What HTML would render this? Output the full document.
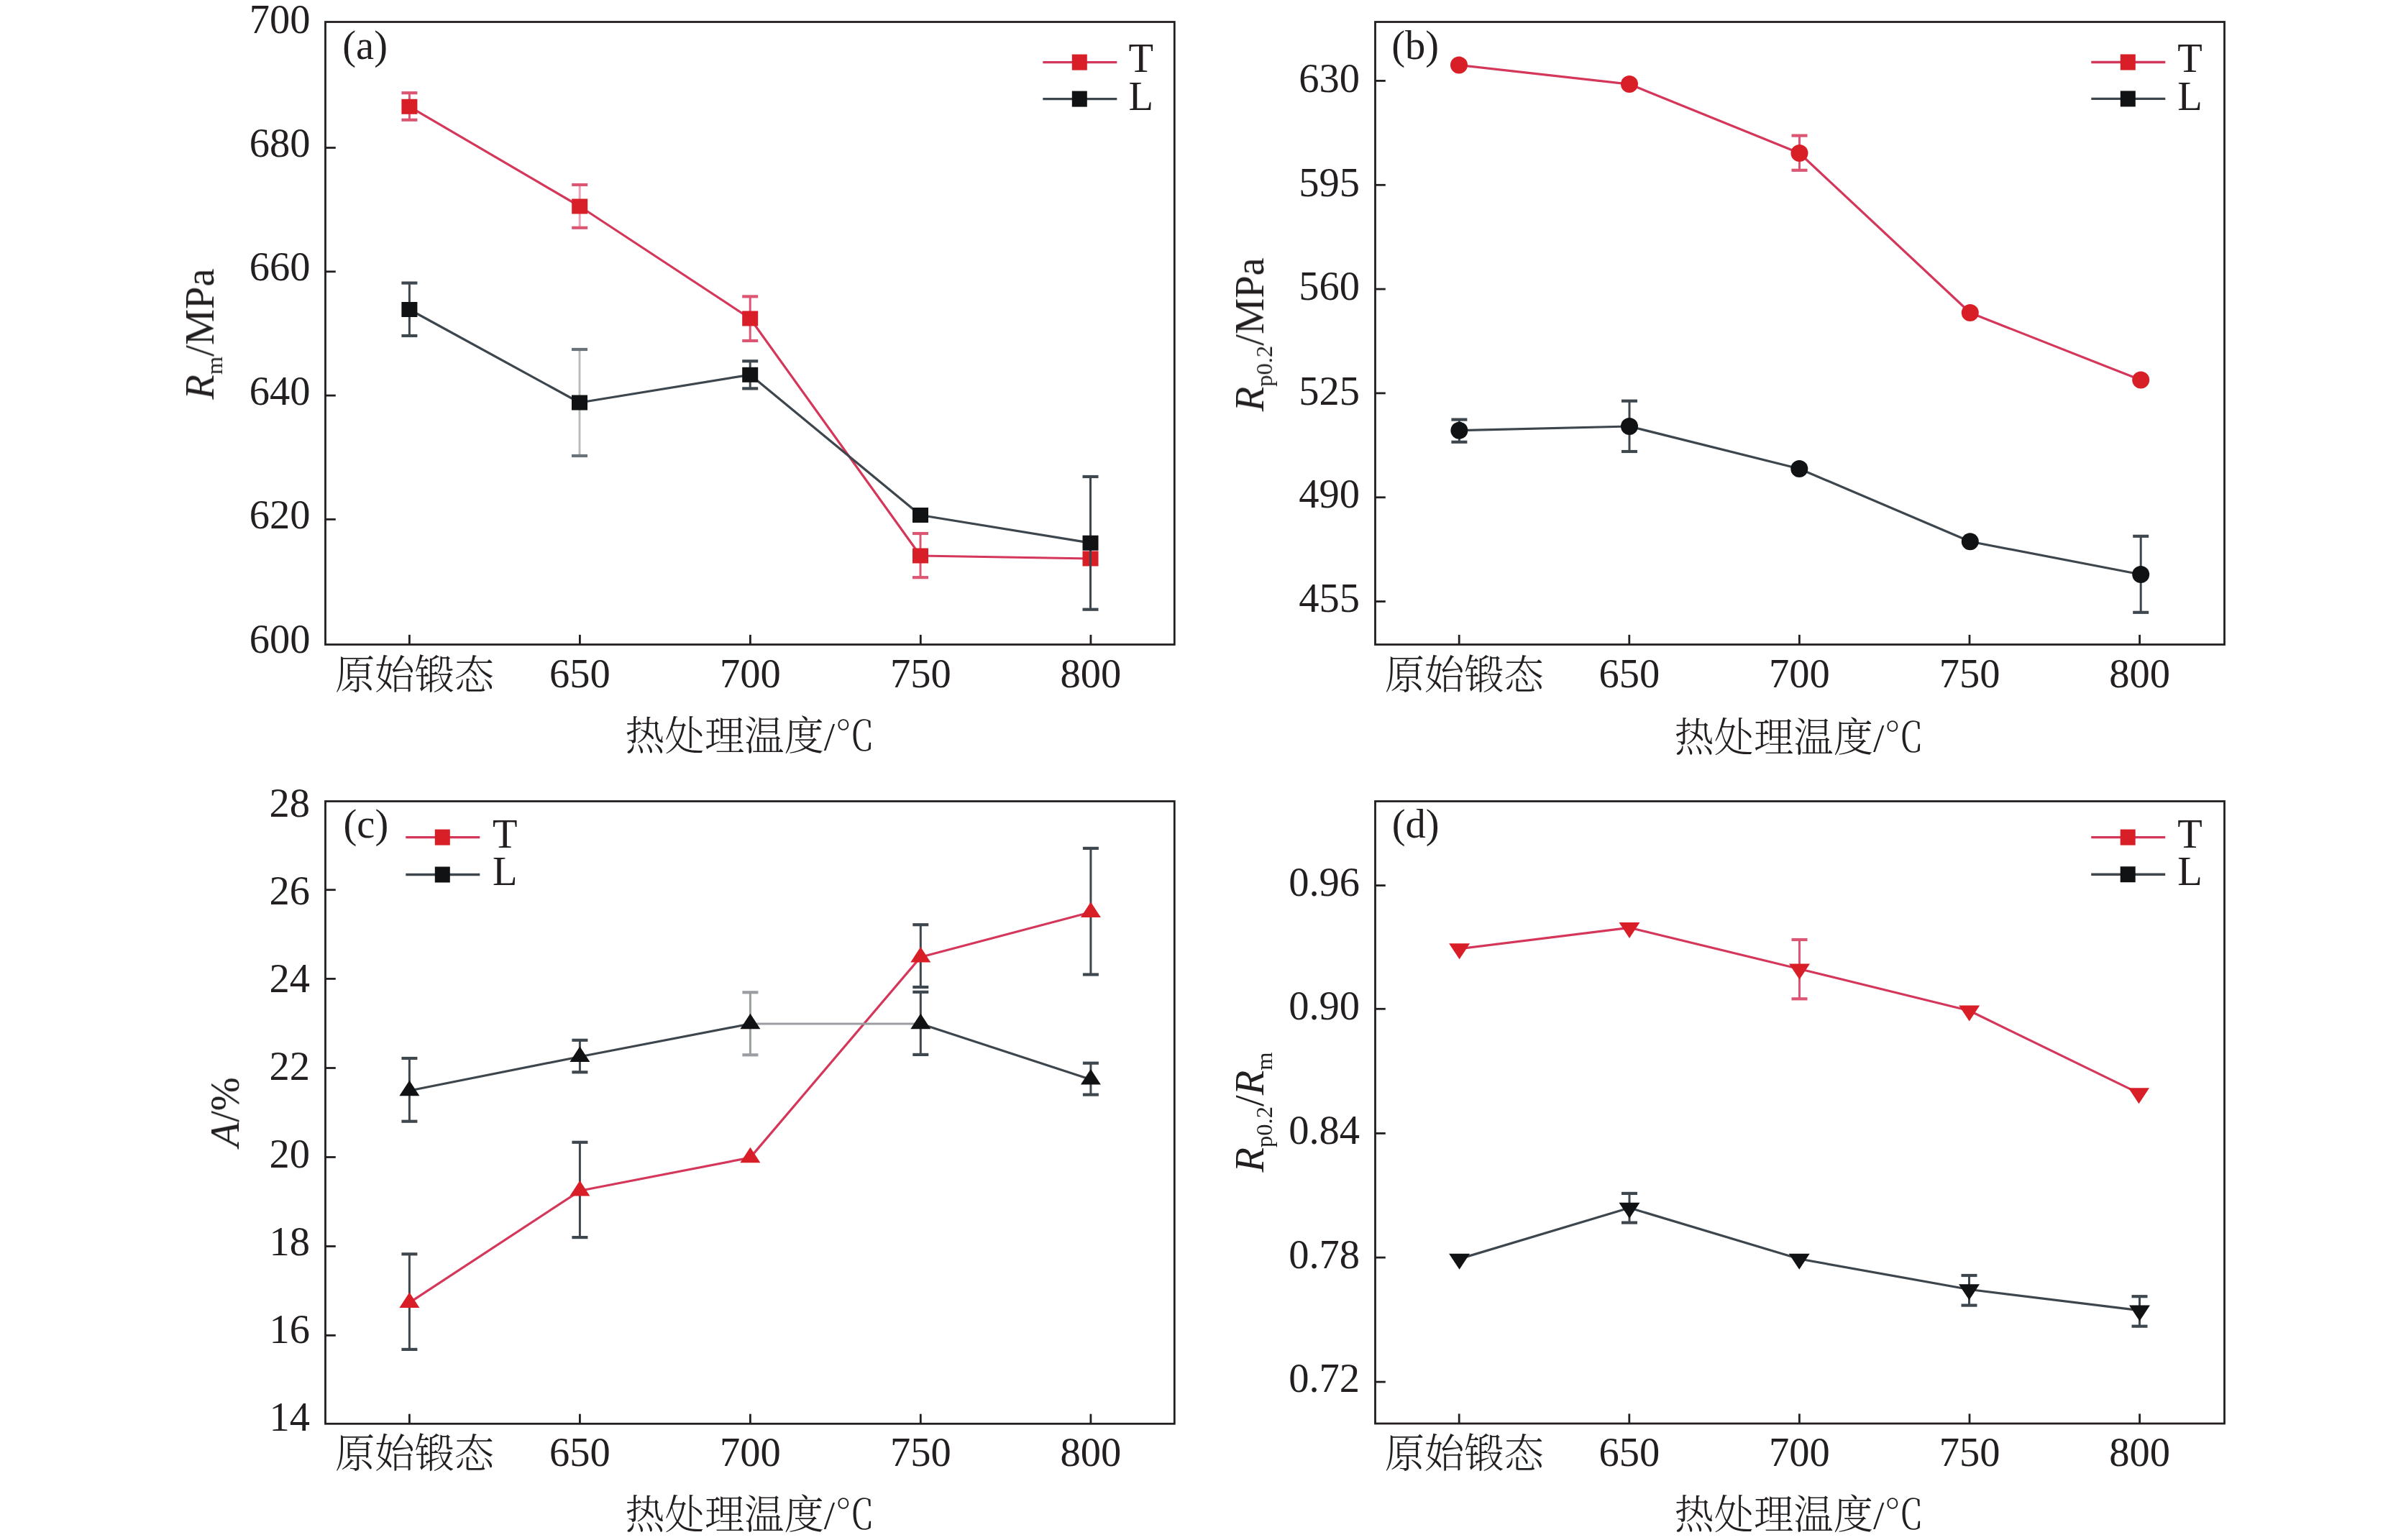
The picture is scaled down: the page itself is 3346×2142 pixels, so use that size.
<!DOCTYPE html><html><head><meta charset="utf-8"><style>
html,body{margin:0;padding:0;background:#fff;overflow:hidden}
svg{display:block} .t{font-family:'Liberation Serif', 'Noto Serif CJK SC', serif;font-size:56.5px;fill:#231f20} .c{font-family:'Liberation Serif', 'Noto Serif CJK SC', serif;font-size:55.3px;font-weight:300;fill:#231f20} .i{font-style:italic}
</style></head><body>
<svg width="3346" height="2142" viewBox="0 0 3346 2142">
<defs><filter id="gs" x="-10%" y="-10%" width="120%" height="120%"><feColorMatrix type="identity"/></filter></defs>
<rect width="3346" height="2142" fill="#fff"/>
<rect x="452.5" y="30.5" width="1180.80" height="866.00" fill="none" stroke="#231f20" stroke-width="2.8"/>
<line x1="452.5" y1="205.5" x2="466.8" y2="205.5" stroke="#231f20" stroke-width="2.8"/>
<line x1="452.5" y1="377.8" x2="466.8" y2="377.8" stroke="#231f20" stroke-width="2.8"/>
<line x1="452.5" y1="550.1" x2="466.8" y2="550.1" stroke="#231f20" stroke-width="2.8"/>
<line x1="452.5" y1="722.4" x2="466.8" y2="722.4" stroke="#231f20" stroke-width="2.8"/>
<line x1="569.4" y1="896.5" x2="569.4" y2="882.9" stroke="#231f20" stroke-width="2.8"/>
<line x1="806.4" y1="896.5" x2="806.4" y2="882.9" stroke="#231f20" stroke-width="2.8"/>
<line x1="1043.4" y1="896.5" x2="1043.4" y2="882.9" stroke="#231f20" stroke-width="2.8"/>
<line x1="1280.3" y1="896.5" x2="1280.3" y2="882.9" stroke="#231f20" stroke-width="2.8"/>
<line x1="1516.9" y1="896.5" x2="1516.9" y2="882.9" stroke="#231f20" stroke-width="2.8"/>
<text x="431.5" y="45.9" text-anchor="end" class="t">700</text>
<text x="431.5" y="217.9" text-anchor="end" class="t">680</text>
<text x="431.5" y="389.7" text-anchor="end" class="t">660</text>
<text x="431.5" y="562.7" text-anchor="end" class="t">640</text>
<text x="431.5" y="734.8" text-anchor="end" class="t">620</text>
<text x="431.5" y="907.8" text-anchor="end" class="t">600</text>
<text x="576.5" y="957.5" text-anchor="middle" class="c">原始锻态</text>
<text x="806.4" y="955.6" text-anchor="middle" class="t">650</text>
<text x="1043.4" y="955.6" text-anchor="middle" class="t">700</text>
<text x="1280.3" y="955.6" text-anchor="middle" class="t">750</text>
<text x="1516.9" y="955.6" text-anchor="middle" class="t">800</text>
<text x="869.3" y="1043.2" class="c">热处理温度/℃</text>
<text x="476.3" y="82" class="t">(a)</text>
<text filter="url(#gs)" transform="translate(297,464.6) rotate(-90)" text-anchor="middle" class="t"><tspan class="i">R</tspan><tspan font-size="32.5" dy="11.8">m</tspan><tspan dy="-11.8">/MPa</tspan></text>
<line x1="1450.3" y1="86.6" x2="1553.3" y2="86.6" stroke="#d4375a" stroke-width="3.4"/>
<rect x="1490.8" y="75.6" width="21" height="22" fill="#d81f27"/>
<line x1="1450.3" y1="137.6" x2="1553.3" y2="137.6" stroke="#3e464d" stroke-width="3.4"/>
<rect x="1490.8" y="126.6" width="21" height="22" fill="#111213"/>
<text x="1569.6" y="100.2" class="t">T</text>
<text x="1569.6" y="153.0" class="t">L</text>
<polyline points="569.4,148.3 806.2,287.0 1043.2,443.0 1280.0,773.0 1516.5,777.0" fill="none" stroke="#d4375a" stroke-width="3.2" stroke-linejoin="round"/>
<line x1="569.4" y1="129.2" x2="569.4" y2="166.8" stroke="#dc5572" stroke-width="3.0"/>
<line x1="558.4" y1="129.2" x2="580.4" y2="129.2" stroke="#dc5572" stroke-width="4.2"/>
<line x1="558.4" y1="166.8" x2="580.4" y2="166.8" stroke="#dc5572" stroke-width="4.2"/>
<line x1="806.2" y1="257" x2="806.2" y2="316.8" stroke="#eba0b3" stroke-width="3.0"/>
<line x1="795.2" y1="257" x2="817.2" y2="257" stroke="#dc5572" stroke-width="4.2"/>
<line x1="795.2" y1="316.8" x2="817.2" y2="316.8" stroke="#dc5572" stroke-width="4.2"/>
<line x1="1043.2" y1="412.4" x2="1043.2" y2="474" stroke="#dc5572" stroke-width="3.0"/>
<line x1="1032.2" y1="412.4" x2="1054.2" y2="412.4" stroke="#dc5572" stroke-width="4.2"/>
<line x1="1032.2" y1="474" x2="1054.2" y2="474" stroke="#dc5572" stroke-width="4.2"/>
<line x1="1280" y1="742" x2="1280" y2="803.2" stroke="#dc5572" stroke-width="3.0"/>
<line x1="1269.0" y1="742" x2="1291.0" y2="742" stroke="#dc5572" stroke-width="4.2"/>
<line x1="1269.0" y1="803.2" x2="1291.0" y2="803.2" stroke="#dc5572" stroke-width="4.2"/>
<rect x="558.4" y="137.8" width="22" height="21" fill="#d81f27"/>
<rect x="795.2" y="276.5" width="22" height="21" fill="#d81f27"/>
<rect x="1032.2" y="432.5" width="22" height="21" fill="#d81f27"/>
<rect x="1269.0" y="762.5" width="22" height="21" fill="#d81f27"/>
<rect x="1505.5" y="766.5" width="22" height="21" fill="#d81f27"/>
<polyline points="569.4,430.5 806.0,560.0 1043.2,521.3 1280.0,716.5 1516.5,755.2" fill="none" stroke="#3e464d" stroke-width="3.2" stroke-linejoin="round"/>
<line x1="569.4" y1="393.6" x2="569.4" y2="467" stroke="#3f474e" stroke-width="3.0"/>
<line x1="558.4" y1="393.6" x2="580.4" y2="393.6" stroke="#3f474e" stroke-width="4.2"/>
<line x1="558.4" y1="467" x2="580.4" y2="467" stroke="#3f474e" stroke-width="4.2"/>
<line x1="806" y1="486" x2="806" y2="634" stroke="#b9bcbf" stroke-width="3.0"/>
<line x1="795.0" y1="486" x2="817.0" y2="486" stroke="#6a7279" stroke-width="4.2"/>
<line x1="795.0" y1="634" x2="817.0" y2="634" stroke="#6a7279" stroke-width="4.2"/>
<line x1="1043.2" y1="502.3" x2="1043.2" y2="540.4" stroke="#3f474e" stroke-width="3.0"/>
<line x1="1032.2" y1="502.3" x2="1054.2" y2="502.3" stroke="#3f474e" stroke-width="4.2"/>
<line x1="1032.2" y1="540.4" x2="1054.2" y2="540.4" stroke="#3f474e" stroke-width="4.2"/>
<line x1="1516.5" y1="663" x2="1516.5" y2="847.7" stroke="#3f474e" stroke-width="3.0"/>
<line x1="1505.5" y1="663" x2="1527.5" y2="663" stroke="#3f474e" stroke-width="4.2"/>
<line x1="1505.5" y1="847.7" x2="1527.5" y2="847.7" stroke="#3f474e" stroke-width="4.2"/>
<rect x="558.4" y="420.0" width="22" height="21" fill="#111213"/>
<rect x="795.0" y="549.5" width="22" height="21" fill="#111213"/>
<rect x="1032.2" y="510.8" width="22" height="21" fill="#111213"/>
<rect x="1269.0" y="706.0" width="22" height="21" fill="#111213"/>
<rect x="1505.5" y="744.7" width="22" height="21" fill="#111213"/>
<rect x="1912.5" y="30.5" width="1181.00" height="866.00" fill="none" stroke="#231f20" stroke-width="2.8"/>
<line x1="1912.5" y1="112.4" x2="1926.8" y2="112.4" stroke="#231f20" stroke-width="2.8"/>
<line x1="1912.5" y1="257.3" x2="1926.8" y2="257.3" stroke="#231f20" stroke-width="2.8"/>
<line x1="1912.5" y1="402.1" x2="1926.8" y2="402.1" stroke="#231f20" stroke-width="2.8"/>
<line x1="1912.5" y1="546.9" x2="1926.8" y2="546.9" stroke="#231f20" stroke-width="2.8"/>
<line x1="1912.5" y1="691.8" x2="1926.8" y2="691.8" stroke="#231f20" stroke-width="2.8"/>
<line x1="1912.5" y1="836.6" x2="1926.8" y2="836.6" stroke="#231f20" stroke-width="2.8"/>
<line x1="2029.2" y1="896.5" x2="2029.2" y2="882.9" stroke="#231f20" stroke-width="2.8"/>
<line x1="2265.8" y1="896.5" x2="2265.8" y2="882.9" stroke="#231f20" stroke-width="2.8"/>
<line x1="2502.4" y1="896.5" x2="2502.4" y2="882.9" stroke="#231f20" stroke-width="2.8"/>
<line x1="2739.0" y1="896.5" x2="2739.0" y2="882.9" stroke="#231f20" stroke-width="2.8"/>
<line x1="2975.6" y1="896.5" x2="2975.6" y2="882.9" stroke="#231f20" stroke-width="2.8"/>
<text x="1891.0" y="127.8" text-anchor="end" class="t">630</text>
<text x="1891.0" y="273.1" text-anchor="end" class="t">595</text>
<text x="1891.0" y="416.8" text-anchor="end" class="t">560</text>
<text x="1891.0" y="562.6" text-anchor="end" class="t">525</text>
<text x="1891.0" y="706.0" text-anchor="end" class="t">490</text>
<text x="1891.0" y="850.5" text-anchor="end" class="t">455</text>
<text x="2036.3" y="957.8" text-anchor="middle" class="c">原始锻态</text>
<text x="2265.8" y="955.6" text-anchor="middle" class="t">650</text>
<text x="2502.4" y="955.6" text-anchor="middle" class="t">700</text>
<text x="2739.0" y="955.6" text-anchor="middle" class="t">750</text>
<text x="2975.6" y="955.6" text-anchor="middle" class="t">800</text>
<text x="2328.5" y="1044.5" class="c">热处理温度/℃</text>
<text x="1935.3" y="82.3" class="t">(b)</text>
<text filter="url(#gs)" transform="translate(1757,465.3) rotate(-90)" text-anchor="middle" class="t"><tspan class="i">R</tspan><tspan font-size="32.5" dy="11.8">p0.2</tspan><tspan dy="-11.8">/MPa</tspan></text>
<line x1="2908.3" y1="86.5" x2="3011.3" y2="86.5" stroke="#d4375a" stroke-width="3.4"/>
<rect x="2948.8" y="75.5" width="21" height="22" fill="#d81f27"/>
<line x1="2908.3" y1="137.4" x2="3011.3" y2="137.4" stroke="#3e464d" stroke-width="3.4"/>
<rect x="2948.8" y="126.4" width="21" height="22" fill="#111213"/>
<text x="3028.2" y="100.0" class="t">T</text>
<text x="3028.2" y="153.0" class="t">L</text>
<polyline points="2029.0,90.6 2266.0,117.1 2502.5,213.0 2739.8,435.0 2977.2,528.6" fill="none" stroke="#d4375a" stroke-width="3.2" stroke-linejoin="round"/>
<line x1="2502.5" y1="188.6" x2="2502.5" y2="236.8" stroke="#dc5572" stroke-width="3.0"/>
<line x1="2491.5" y1="188.6" x2="2513.5" y2="188.6" stroke="#dc5572" stroke-width="4.2"/>
<line x1="2491.5" y1="236.8" x2="2513.5" y2="236.8" stroke="#dc5572" stroke-width="4.2"/>
<circle cx="2029" cy="90.6" r="12" fill="#d81f27"/>
<circle cx="2266" cy="117.1" r="12" fill="#d81f27"/>
<circle cx="2502.5" cy="213" r="12" fill="#d81f27"/>
<circle cx="2739.8" cy="435" r="12" fill="#d81f27"/>
<circle cx="2977.2" cy="528.6" r="12" fill="#d81f27"/>
<polyline points="2029.4,598.7 2266.0,593.0 2502.3,652.0 2739.8,753.3 2977.2,799.0" fill="none" stroke="#3e464d" stroke-width="3.2" stroke-linejoin="round"/>
<line x1="2029.4" y1="583.6" x2="2029.4" y2="614.8" stroke="#3f474e" stroke-width="3.0"/>
<line x1="2018.4" y1="583.6" x2="2040.4" y2="583.6" stroke="#3f474e" stroke-width="4.2"/>
<line x1="2018.4" y1="614.8" x2="2040.4" y2="614.8" stroke="#3f474e" stroke-width="4.2"/>
<line x1="2266" y1="557.7" x2="2266" y2="628" stroke="#3f474e" stroke-width="3.0"/>
<line x1="2255.0" y1="557.7" x2="2277.0" y2="557.7" stroke="#3f474e" stroke-width="4.2"/>
<line x1="2255.0" y1="628" x2="2277.0" y2="628" stroke="#3f474e" stroke-width="4.2"/>
<line x1="2977.2" y1="745.8" x2="2977.2" y2="851.8" stroke="#3f474e" stroke-width="3.0"/>
<line x1="2966.2" y1="745.8" x2="2988.2" y2="745.8" stroke="#3f474e" stroke-width="4.2"/>
<line x1="2966.2" y1="851.8" x2="2988.2" y2="851.8" stroke="#3f474e" stroke-width="4.2"/>
<circle cx="2029.4" cy="598.7" r="12" fill="#111213"/>
<circle cx="2266" cy="593" r="12" fill="#111213"/>
<circle cx="2502.3" cy="652" r="12" fill="#111213"/>
<circle cx="2739.8" cy="753.3" r="12" fill="#111213"/>
<circle cx="2977.2" cy="799" r="12" fill="#111213"/>
<rect x="452.5" y="1114.5" width="1180.80" height="865.80" fill="none" stroke="#231f20" stroke-width="2.8"/>
<line x1="452.5" y1="1237.7" x2="466.8" y2="1237.7" stroke="#231f20" stroke-width="2.8"/>
<line x1="452.5" y1="1361.4" x2="466.8" y2="1361.4" stroke="#231f20" stroke-width="2.8"/>
<line x1="452.5" y1="1485.5" x2="466.8" y2="1485.5" stroke="#231f20" stroke-width="2.8"/>
<line x1="452.5" y1="1609.5" x2="466.8" y2="1609.5" stroke="#231f20" stroke-width="2.8"/>
<line x1="452.5" y1="1733.5" x2="466.8" y2="1733.5" stroke="#231f20" stroke-width="2.8"/>
<line x1="452.5" y1="1857.4" x2="466.8" y2="1857.4" stroke="#231f20" stroke-width="2.8"/>
<line x1="569.4" y1="1980.3" x2="569.4" y2="1966.7" stroke="#231f20" stroke-width="2.8"/>
<line x1="806.4" y1="1980.3" x2="806.4" y2="1966.7" stroke="#231f20" stroke-width="2.8"/>
<line x1="1043.4" y1="1980.3" x2="1043.4" y2="1966.7" stroke="#231f20" stroke-width="2.8"/>
<line x1="1280.3" y1="1980.3" x2="1280.3" y2="1966.7" stroke="#231f20" stroke-width="2.8"/>
<line x1="1516.9" y1="1980.3" x2="1516.9" y2="1966.7" stroke="#231f20" stroke-width="2.8"/>
<text x="431.0" y="1135.7" text-anchor="end" class="t">28</text>
<text x="431.0" y="1257.9" text-anchor="end" class="t">26</text>
<text x="431.0" y="1379.7" text-anchor="end" class="t">24</text>
<text x="431.0" y="1502.1" text-anchor="end" class="t">22</text>
<text x="431.0" y="1624.1" text-anchor="end" class="t">20</text>
<text x="431.0" y="1746.1" text-anchor="end" class="t">18</text>
<text x="431.0" y="1868.1" text-anchor="end" class="t">16</text>
<text x="431.0" y="1989.5" text-anchor="end" class="t">14</text>
<text x="576.5" y="2040.5" text-anchor="middle" class="c">原始锻态</text>
<text x="806.4" y="2039.1" text-anchor="middle" class="t">650</text>
<text x="1043.4" y="2039.1" text-anchor="middle" class="t">700</text>
<text x="1280.3" y="2039.1" text-anchor="middle" class="t">750</text>
<text x="1516.9" y="2039.1" text-anchor="middle" class="t">800</text>
<text x="869.3" y="2126.2" class="c">热处理温度/℃</text>
<text x="477.5" y="1164.5" class="t">(c)</text>
<text filter="url(#gs)" transform="translate(332,1546.8) rotate(-90)" text-anchor="middle" class="t"><tspan class="i">A</tspan>/%</text>
<line x1="564.3" y1="1164.6" x2="667.3" y2="1164.6" stroke="#d4375a" stroke-width="3.4"/>
<rect x="604.8" y="1153.6" width="21" height="22" fill="#d81f27"/>
<line x1="564.3" y1="1216.5" x2="667.3" y2="1216.5" stroke="#3e464d" stroke-width="3.4"/>
<rect x="604.8" y="1205.5" width="21" height="22" fill="#111213"/>
<text x="685" y="1179.0" class="t">T</text>
<text x="685" y="1231.1" class="t">L</text>
<polyline points="569.4,1811.8 806.4,1656.3 1043.4,1610.1 1280.3,1331.2 1516.9,1268.8" fill="none" stroke="#d4375a" stroke-width="3.2" stroke-linejoin="round"/>
<line x1="569.4" y1="1744.3" x2="569.4" y2="1876.9" stroke="#3f474e" stroke-width="3.0"/>
<line x1="558.4" y1="1744.3" x2="580.4" y2="1744.3" stroke="#3f474e" stroke-width="4.2"/>
<line x1="558.4" y1="1876.9" x2="580.4" y2="1876.9" stroke="#3f474e" stroke-width="4.2"/>
<line x1="806.4" y1="1588.8" x2="806.4" y2="1721.1" stroke="#3f474e" stroke-width="3.0"/>
<line x1="795.4" y1="1588.8" x2="817.4" y2="1588.8" stroke="#3f474e" stroke-width="4.2"/>
<line x1="795.4" y1="1721.1" x2="817.4" y2="1721.1" stroke="#3f474e" stroke-width="4.2"/>
<line x1="1280.3" y1="1286.2" x2="1280.3" y2="1373" stroke="#3f474e" stroke-width="3.0"/>
<line x1="1269.3" y1="1286.2" x2="1291.3" y2="1286.2" stroke="#3f474e" stroke-width="4.2"/>
<line x1="1269.3" y1="1373" x2="1291.3" y2="1373" stroke="#3f474e" stroke-width="4.2"/>
<line x1="1516.9" y1="1179.9" x2="1516.9" y2="1355.5" stroke="#3f474e" stroke-width="3.0"/>
<line x1="1505.9" y1="1179.9" x2="1527.9" y2="1179.9" stroke="#3f474e" stroke-width="4.2"/>
<line x1="1505.9" y1="1355.5" x2="1527.9" y2="1355.5" stroke="#3f474e" stroke-width="4.2"/>
<polygon points="569.4,1797.5 555.4,1819.0 583.4,1819.0" fill="#d81f27"/>
<polygon points="806.4,1642.0 792.4,1663.5 820.4,1663.5" fill="#d81f27"/>
<polygon points="1043.4,1595.8 1029.4,1617.3 1057.4,1617.3" fill="#d81f27"/>
<polygon points="1280.3,1316.9 1266.3,1338.4 1294.3,1338.4" fill="#d81f27"/>
<polygon points="1516.9,1254.5 1502.9,1276.0 1530.9,1276.0" fill="#d81f27"/>
<polyline points="569.4,1517.0 806.4,1469.7 1043.4,1424.0" fill="none" stroke="#3e464d" stroke-width="3.2" stroke-linejoin="round"/>
<polyline points="1043.4,1424.0 1280.3,1424.0" fill="none" stroke="#9a9ea2" stroke-width="3.0" stroke-linejoin="round"/>
<polyline points="1280.3,1424.0 1516.9,1501.4" fill="none" stroke="#3e464d" stroke-width="3.2" stroke-linejoin="round"/>
<line x1="569.4" y1="1472" x2="569.4" y2="1559.7" stroke="#3f474e" stroke-width="3.0"/>
<line x1="558.4" y1="1472" x2="580.4" y2="1472" stroke="#3f474e" stroke-width="4.2"/>
<line x1="558.4" y1="1559.7" x2="580.4" y2="1559.7" stroke="#3f474e" stroke-width="4.2"/>
<line x1="806.4" y1="1446.8" x2="806.4" y2="1491.3" stroke="#3f474e" stroke-width="3.0"/>
<line x1="795.4" y1="1446.8" x2="817.4" y2="1446.8" stroke="#3f474e" stroke-width="4.2"/>
<line x1="795.4" y1="1491.3" x2="817.4" y2="1491.3" stroke="#3f474e" stroke-width="4.2"/>
<line x1="1043.4" y1="1380.3" x2="1043.4" y2="1467.3" stroke="#9a9ea2" stroke-width="3.0"/>
<line x1="1032.4" y1="1380.3" x2="1054.4" y2="1380.3" stroke="#9a9ea2" stroke-width="4.2"/>
<line x1="1032.4" y1="1467.3" x2="1054.4" y2="1467.3" stroke="#9a9ea2" stroke-width="4.2"/>
<line x1="1280.3" y1="1379.8" x2="1280.3" y2="1466.9" stroke="#3f474e" stroke-width="3.0"/>
<line x1="1269.3" y1="1379.8" x2="1291.3" y2="1379.8" stroke="#3f474e" stroke-width="4.2"/>
<line x1="1269.3" y1="1466.9" x2="1291.3" y2="1466.9" stroke="#3f474e" stroke-width="4.2"/>
<line x1="1516.9" y1="1478.7" x2="1516.9" y2="1522.6" stroke="#3f474e" stroke-width="3.0"/>
<line x1="1505.9" y1="1478.7" x2="1527.9" y2="1478.7" stroke="#3f474e" stroke-width="4.2"/>
<line x1="1505.9" y1="1522.6" x2="1527.9" y2="1522.6" stroke="#3f474e" stroke-width="4.2"/>
<polygon points="569.4,1502.7 555.4,1524.2 583.4,1524.2" fill="#111213"/>
<polygon points="806.4,1455.4 792.4,1476.9 820.4,1476.9" fill="#111213"/>
<polygon points="1043.4,1409.7 1029.4,1431.2 1057.4,1431.2" fill="#111213"/>
<polygon points="1280.3,1409.7 1266.3,1431.2 1294.3,1431.2" fill="#111213"/>
<polygon points="1516.9,1487.1 1502.9,1508.6 1530.9,1508.6" fill="#111213"/>
<rect x="1912.5" y="1114.5" width="1181.00" height="865.50" fill="none" stroke="#231f20" stroke-width="2.8"/>
<line x1="1912.5" y1="1231.6" x2="1926.8" y2="1231.6" stroke="#231f20" stroke-width="2.8"/>
<line x1="1912.5" y1="1403.3" x2="1926.8" y2="1403.3" stroke="#231f20" stroke-width="2.8"/>
<line x1="1912.5" y1="1576.4" x2="1926.8" y2="1576.4" stroke="#231f20" stroke-width="2.8"/>
<line x1="1912.5" y1="1749.1" x2="1926.8" y2="1749.1" stroke="#231f20" stroke-width="2.8"/>
<line x1="1912.5" y1="1922.1" x2="1926.8" y2="1922.1" stroke="#231f20" stroke-width="2.8"/>
<line x1="2029.2" y1="1980.0" x2="2029.2" y2="1966.4" stroke="#231f20" stroke-width="2.8"/>
<line x1="2265.8" y1="1980.0" x2="2265.8" y2="1966.4" stroke="#231f20" stroke-width="2.8"/>
<line x1="2502.4" y1="1980.0" x2="2502.4" y2="1966.4" stroke="#231f20" stroke-width="2.8"/>
<line x1="2739.0" y1="1980.0" x2="2739.0" y2="1966.4" stroke="#231f20" stroke-width="2.8"/>
<line x1="2975.6" y1="1980.0" x2="2975.6" y2="1966.4" stroke="#231f20" stroke-width="2.8"/>
<text x="1891.0" y="1245.7" text-anchor="end" class="t">0.96</text>
<text x="1891.0" y="1418.1" text-anchor="end" class="t">0.90</text>
<text x="1891.0" y="1591.2" text-anchor="end" class="t">0.84</text>
<text x="1891.0" y="1764.1" text-anchor="end" class="t">0.78</text>
<text x="1891.0" y="1936.2" text-anchor="end" class="t">0.72</text>
<text x="2036.3" y="2040.5" text-anchor="middle" class="c">原始锻态</text>
<text x="2265.8" y="2039.3" text-anchor="middle" class="t">650</text>
<text x="2502.4" y="2039.3" text-anchor="middle" class="t">700</text>
<text x="2739.0" y="2039.3" text-anchor="middle" class="t">750</text>
<text x="2975.6" y="2039.3" text-anchor="middle" class="t">800</text>
<text x="2328.5" y="2126.2" class="c">热处理温度/℃</text>
<text x="1935.8" y="1164.5" class="t">(d)</text>
<text filter="url(#gs)" transform="translate(1757,1547) rotate(-90)" text-anchor="middle" class="t"><tspan class="i">R</tspan><tspan font-size="32.5" dy="11.8">p0.2</tspan><tspan dy="-11.8">/</tspan><tspan class="i">R</tspan><tspan font-size="32.5" dy="11.8">m</tspan></text>
<line x1="2908.2" y1="1164.6" x2="3011.2" y2="1164.6" stroke="#d4375a" stroke-width="3.4"/>
<rect x="2948.7" y="1153.6" width="21" height="22" fill="#d81f27"/>
<line x1="2908.2" y1="1216.2" x2="3011.2" y2="1216.2" stroke="#3e464d" stroke-width="3.4"/>
<rect x="2948.7" y="1205.2" width="21" height="22" fill="#111213"/>
<text x="3028.2" y="1179.0" class="t">T</text>
<text x="3028.2" y="1231.1" class="t">L</text>
<polyline points="2029.6,1319.6 2266.0,1290.3 2502.5,1347.7 2738.7,1405.8 2974.5,1520.6" fill="none" stroke="#d4375a" stroke-width="3.2" stroke-linejoin="round"/>
<line x1="2502.5" y1="1307" x2="2502.5" y2="1389.3" stroke="#dc5572" stroke-width="3.0"/>
<line x1="2491.5" y1="1307" x2="2513.5" y2="1307" stroke="#dc5572" stroke-width="4.2"/>
<line x1="2491.5" y1="1389.3" x2="2513.5" y2="1389.3" stroke="#dc5572" stroke-width="4.2"/>
<polygon points="2015.1,1312.3 2044.1,1312.3 2029.6,1334.3" fill="#d81f27"/>
<polygon points="2251.5,1283.0 2280.5,1283.0 2266.0,1305.0" fill="#d81f27"/>
<polygon points="2488.0,1340.4 2517.0,1340.4 2502.5,1362.4" fill="#d81f27"/>
<polygon points="2724.2,1398.5 2753.2,1398.5 2738.7,1420.5" fill="#d81f27"/>
<polygon points="2960.0,1513.3 2989.0,1513.3 2974.5,1535.3" fill="#d81f27"/>
<polyline points="2029.6,1751.0 2266.0,1680.0 2502.2,1751.0 2738.5,1793.5 2975.5,1822.7" fill="none" stroke="#3e464d" stroke-width="3.2" stroke-linejoin="round"/>
<line x1="2266" y1="1659.9" x2="2266" y2="1700.6" stroke="#3f474e" stroke-width="3.0"/>
<line x1="2255.0" y1="1659.9" x2="2277.0" y2="1659.9" stroke="#3f474e" stroke-width="4.2"/>
<line x1="2255.0" y1="1700.6" x2="2277.0" y2="1700.6" stroke="#3f474e" stroke-width="4.2"/>
<line x1="2738.5" y1="1774" x2="2738.5" y2="1815.6" stroke="#3f474e" stroke-width="3.0"/>
<line x1="2727.5" y1="1774" x2="2749.5" y2="1774" stroke="#3f474e" stroke-width="4.2"/>
<line x1="2727.5" y1="1815.6" x2="2749.5" y2="1815.6" stroke="#3f474e" stroke-width="4.2"/>
<line x1="2975.5" y1="1803.2" x2="2975.5" y2="1844.7" stroke="#3f474e" stroke-width="3.0"/>
<line x1="2964.5" y1="1803.2" x2="2986.5" y2="1803.2" stroke="#3f474e" stroke-width="4.2"/>
<line x1="2964.5" y1="1844.7" x2="2986.5" y2="1844.7" stroke="#3f474e" stroke-width="4.2"/>
<polygon points="2015.1,1743.7 2044.1,1743.7 2029.6,1765.7" fill="#111213"/>
<polygon points="2251.5,1672.7 2280.5,1672.7 2266.0,1694.7" fill="#111213"/>
<polygon points="2487.7,1743.7 2516.7,1743.7 2502.2,1765.7" fill="#111213"/>
<polygon points="2724.0,1786.2 2753.0,1786.2 2738.5,1808.2" fill="#111213"/>
<polygon points="2961.0,1815.4 2990.0,1815.4 2975.5,1837.4" fill="#111213"/>
</svg></body></html>
